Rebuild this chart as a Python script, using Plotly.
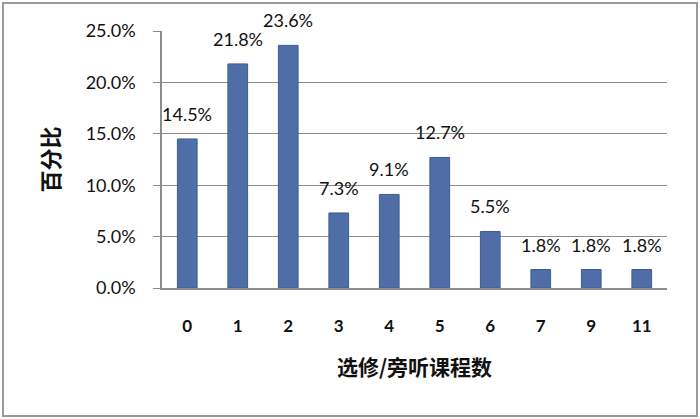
import plotly.graph_objects as go

categories = ["0", "1", "2", "3", "4", "5", "6", "7", "9", "11"]
percent = [14.5, 21.8, 23.6, 7.3, 9.1, 12.7, 5.5, 1.8, 1.8, 1.8]
labels = [f"{v:.1f}%" for v in percent]
values = [v / 100 for v in percent]

bar_color = "#4F6DA6"
grid_color = "#8C8C8C"
num_font = "Lato, Liberation Sans, Arial, sans-serif"
cjk_font = "Noto Sans CJK SC, sans-serif"

fig = go.Figure(
    go.Bar(
        x=categories,
        y=values,
        marker=dict(color=bar_color, line=dict(color="#3E5C94", width=1)),
        width=0.39,
        cliponaxis=False,
    )
)

for i, (v, t) in enumerate(zip(values, labels)):
    fig.add_annotation(
        x=i, y=v, text=t, showarrow=False, yanchor="bottom", yshift=12,
        font=dict(family=num_font, size=18, color="#111111"),
    )

fig.add_shape(
    type="rect", xref="paper", yref="paper",
    x0=(3 - 162) / 505, x1=(697 - 162) / 505,
    y0=(288 - 416) / 257, y1=(288 - 3) / 257,
    line=dict(color="#9A9A9A", width=2), fillcolor="rgba(0,0,0,0)", layer="below",
)

fig.update_layout(
    width=700, height=419,
    margin=dict(l=162, r=33, t=31, b=131, autoexpand=False),
    paper_bgcolor="white", plot_bgcolor="white",
    showlegend=False,
    bargap=0.61,
    xaxis=dict(
        type="category", range=[-0.5, 9.5], automargin=False,
        showline=True, linecolor=grid_color, linewidth=1.5,
        showgrid=False, ticks="",
        tickfont=dict(family=num_font, size=17, color="#111111", weight="bold"),
        ticklabelstandoff=22,
        title=dict(text="选修/旁听课程数", standoff=25,
                   font=dict(family=cjk_font, size=21, color="#111111", weight="bold")),
    ),
    yaxis=dict(
        range=[0, 0.25], dtick=0.05, tickformat=".1%", automargin=False,
        showline=True, linecolor=grid_color, linewidth=1.5,
        showgrid=True, gridcolor=grid_color, gridwidth=1,
        ticks="outside", ticklen=7, tickcolor=grid_color,
        tickfont=dict(family=num_font, size=18, color="#111111"),
        ticklabelstandoff=14,
        zeroline=False,
        title=dict(text="百分比", standoff=20,
                   font=dict(family=cjk_font, size=22, color="#111111", weight="bold")),
    ),
)

fig.write_html("out.html", config={"displayModeBar": False},
               post_script="document.body.style.margin='0';")
